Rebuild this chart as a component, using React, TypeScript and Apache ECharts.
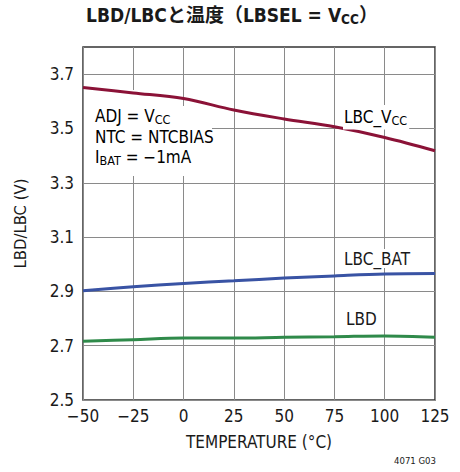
import React, { useEffect, useRef } from "react";
import * as echarts from "echarts";

// Temperature sweep (°C) and measured thresholds (V)
const temperatures = [-50, -25, 0, 25, 50, 75, 100, 125];
const lbcVcc = [3.651, 3.631, 3.61, 3.568, 3.535, 3.506, 3.467, 3.418];
const lbcBat = [2.902, 2.917, 2.929, 2.939, 2.949, 2.957, 2.964, 2.966];
const lbd = [2.716, 2.722, 2.728, 2.728, 2.731, 2.733, 2.736, 2.731];

const xTickLabels = ["−50", "−25", "0", "25", "50", "75", "100", "125"];
const yTickLabels = ["2.5", "2.7", "2.9", "3.1", "3.3", "3.5", "3.7"];

const FONT = "'DejaVu Sans Condensed', 'Liberation Sans Narrow', Roboto, 'Noto Sans CJK JP', sans-serif";
const TITLE_FONT = "'DejaVu Sans Condensed', Roboto, 'Noto Sans CJK JP', sans-serif";
const TXT = "#1a1a1a";

const mainStyle = { fontSize: 17, fontFamily: FONT, color: TXT };
const subStyle = { fontSize: 12.5, fontFamily: FONT, color: TXT, padding: [7, 0, 0, 0] };

export default function App() {
  const ref = useRef<HTMLDivElement>(null);

  useEffect(() => {
    if (!ref.current) return;
    const chart = echarts.init(ref.current, null, { renderer: "svg" });

    const pairs = (ys: number[]) => temperatures.map((t, i) => [t, ys[i]]);

    const lineSeries = (name: string, ys: number[], color: string) => ({
      name,
      type: "line",
      data: pairs(ys),
      smooth: 0.35,
      symbol: "none",
      lineStyle: { color, width: 3 },
      z: 3,
    });

    chart.setOption({
      animation: false,
      backgroundColor: "#ffffff",
      title: {
        text: "{m|LBD/LBCと温度（LBSEL = V}{s|CC}{m|）}",
        left: 227,
        top: -1,
        textAlign: "center",
        textStyle: {
          rich: {
            m: { fontSize: 19, fontWeight: "bold", fontFamily: TITLE_FONT, color: TXT },
            s: { fontSize: 13.5, fontWeight: "bold", fontFamily: TITLE_FONT, color: TXT, padding: [8, 0, 0, 0] },
          },
        },
      },
      grid: {
        left: 83,
        right: 25,
        top: 47,
        bottom: 72,
        show: true,
        borderColor: "#333",
        borderWidth: 1.5,
        backgroundColor: "transparent",
        outerBoundsMode: "none",
      },
      xAxis: {
        type: "value",
        min: -50,
        max: 125,
        interval: 25,
        name: "TEMPERATURE (°C)",
        nameLocation: "middle",
        nameGap: 33,
        nameTextStyle: { fontSize: 17, fontFamily: FONT, color: TXT },
        axisLine: { show: false },
        axisTick: { show: false },
        axisLabel: {
          fontSize: 17,
          fontFamily: FONT,
          color: TXT,
          margin: 7,
          formatter: (v: number) => {
            const i = temperatures.indexOf(Math.round(v));
            return i >= 0 ? xTickLabels[i] : "";
          },
        },
        splitLine: { show: true, lineStyle: { color: "#8a8a8a", width: 1 } },
      },
      yAxis: {
        type: "value",
        min: 2.5,
        max: 3.8,
        interval: 0.1,
        name: "LBD/LBC (V)",
        nameLocation: "middle",
        nameGap: 54,
        nameTextStyle: { fontSize: 16.5, fontFamily: FONT, color: TXT },
        axisLine: { show: false },
        axisTick: { show: false },
        axisLabel: {
          fontSize: 17,
          fontFamily: FONT,
          color: TXT,
          margin: 9,
          formatter: (v: number) => {
            const s = v.toFixed(1);
            return yTickLabels.includes(s) ? s : "";
          },
        },
        splitLine: {
          show: true,
          lineStyle: { color: ["#8a8a8a", "rgba(0,0,0,0)"], width: 1 },
        },
      },
      graphic: [
        // blank panel behind the test-condition notes
        { type: "rect", shape: { x: 84, y: 90, width: 76, height: 86 }, style: { fill: "#fff" }, z: 2 },
        { type: "rect", shape: { x: 84, y: 106, width: 128, height: 70 }, style: { fill: "#fff" }, z: 2 },
        {
          type: "text",
          x: 95,
          y: 106,
          z: 4,
          style: {
            text: "{m|ADJ = V}{s|CC}\n{m|NTC = NTCBIAS}\n{m|I}{s|BAT}{m| = −1mA}",
            rich: {
              m: { ...mainStyle, lineHeight: 20.5 },
              s: { ...subStyle },
            },
          },
        },
        {
          type: "text",
          x: 343,
          y: 105,
          z: 4,
          style: {
            text: "{m|LBC_V}{s|CC}",
            backgroundColor: "#fff",
            padding: [2, 2, 3, 1],
            rich: { m: { ...mainStyle }, s: { ...subStyle } },
          },
        },
        {
          type: "text",
          x: 343,
          y: 249,
          z: 4,
          style: {
            text: "LBC_BAT",
            backgroundColor: "#fff",
            padding: [1, 2, 1, 1],
            fontSize: 17,
            fontFamily: FONT,
            fill: TXT,
          },
        },
        {
          type: "text",
          x: 345,
          y: 309,
          z: 4,
          style: {
            text: "LBD",
            backgroundColor: "#fff",
            padding: [1, 2, 1, 1],
            fontSize: 17,
            fontFamily: FONT,
            fill: TXT,
          },
        },
        {
          type: "text",
          x: 436,
          y: 456,
          style: {
            text: "4071 G03",
            align: "right",
            fontSize: 9.5,
            fontFamily: FONT,
            fill: TXT,
          },
        },
      ],
      series: [
        lineSeries("LBC_VCC", lbcVcc, "#8b1237"),
        lineSeries("LBC_BAT", lbcBat, "#3953a4"),
        lineSeries("LBD", lbd, "#2f8a4a"),
      ],
    });

    return () => chart.dispose();
  }, []);

  return (
    <div
      ref={ref}
      style={{ position: "absolute", left: 0, top: 0, width: 460, height: 472 }}
    />
  );
}
